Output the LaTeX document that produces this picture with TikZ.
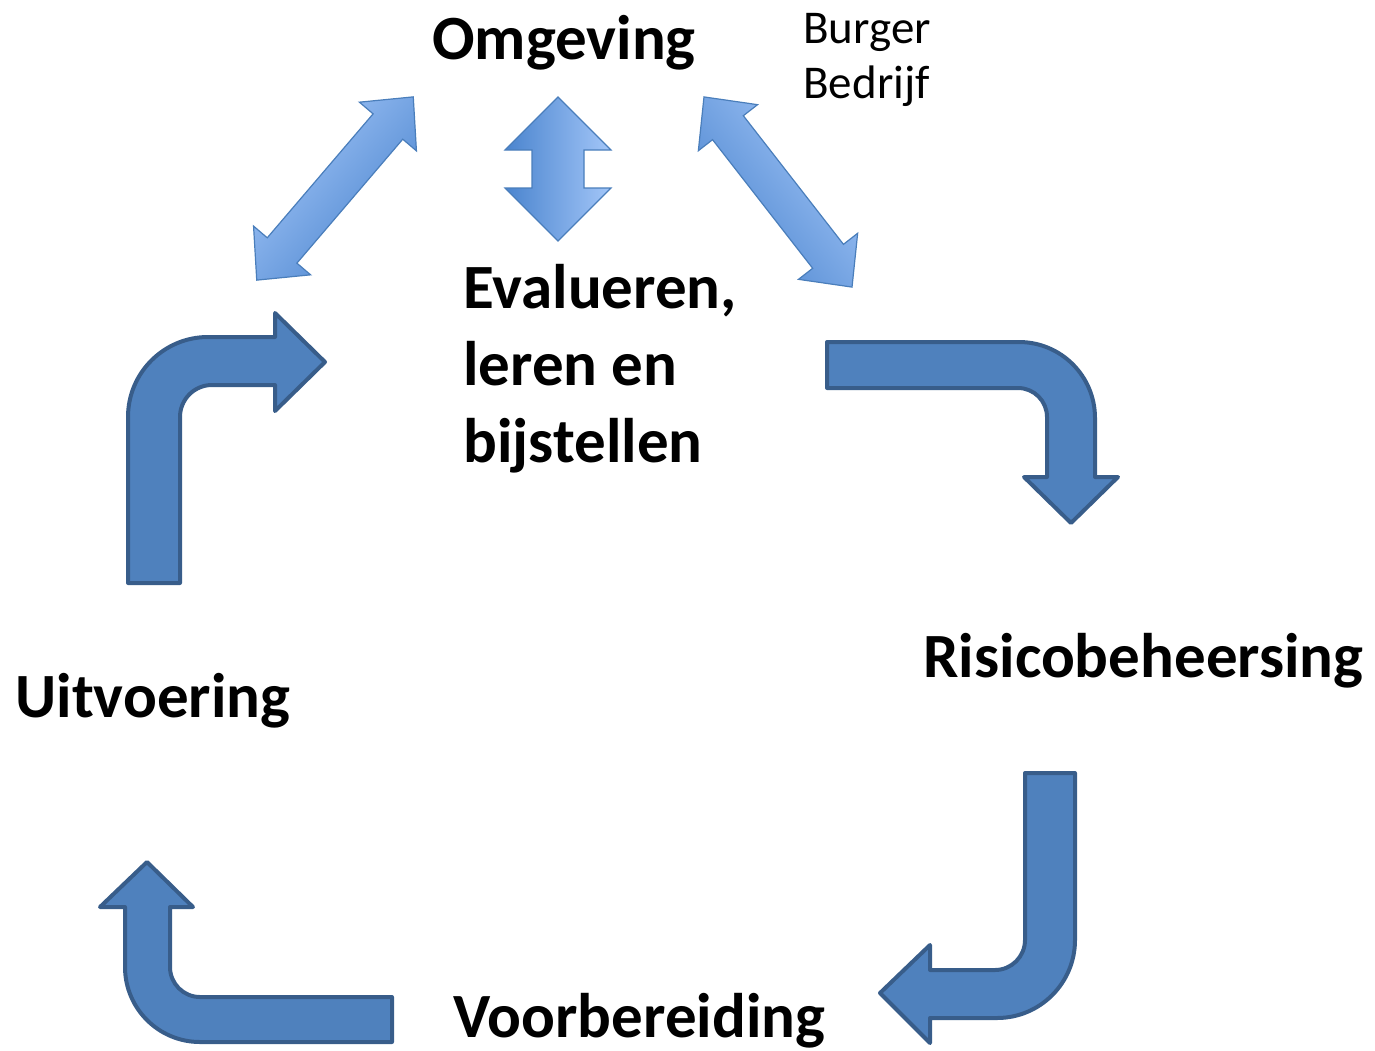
\documentclass[tikz,border=0pt]{standalone}
\usepackage{fontspec}
\setmainfont{Carlito}
\definecolor{bentfill}{HTML}{4F81BD}
\definecolor{bentline}{HTML}{385D8A}
\definecolor{dbldark}{HTML}{4A84CE}
\definecolor{dbllight}{HTML}{A3C6F8}
\definecolor{dblline}{HTML}{4A7EBB}
\tikzset{
	bent/.style={fill=bentfill, draw=bentline, line width=2pt, line join=round},
	dbl/.style={draw=dblline, line width=0.6pt, line join=miter},
	big/.style={font=\bfseries\fontsize{31.5}{38.5}\selectfont, inner sep=0pt, anchor=base west},
	small/.style={font=\fontsize{23.5}{27.5}\selectfont, inner sep=0pt, align=left}
}
\begin{document}
\begin{tikzpicture}[x=0.5pt, y=-0.5pt]
	\useasboundingbox (0,0) rectangle (1375,1050);

	% labels
	\node[big] (omg) at (432,59) {Omgeving};
	\node[small, anchor=north west] (bb) at (803,13) {Burger\\Bedrijf};
	\node[big, anchor=north west, align=left] (eval) at (463,264) {Evalueren,\\leren en\\bijstellen};
	\node[big] (uit) at (15,717) {Uitvoering};
	\node[big] (risico) at (923,677) {Risicobeheersing};
	\node[big] (voor) at (453,1037) {Voorbereiding};

	% double arrows
	\begin{scope}[shift={(335,188.5)}, rotate=49.5]
		\shade[dbl, top color=dbllight, bottom color=dbldark, shading angle=49.5] (-120.5,0) -- (-81.5,37.5) -- (-81.5,19.5) -- (81.5,19.5) -- (81.5,37.5) -- (120.5,0) -- (81.5,-37.5) -- (81.5,-19.5) -- (-81.5,-19.5) -- (-81.5,-37.5) -- cycle;
	\end{scope}
	\begin{scope}[shift={(778,192)}, rotate=-52.1]
		\shade[dbl, top color=dbllight, bottom color=dbldark, shading angle=-52.1] (-120.5,0) -- (-81.5,37.5) -- (-81.5,19.5) -- (81.5,19.5) -- (81.5,37.5) -- (120.5,0) -- (81.5,-37.5) -- (81.5,-19.5) -- (-81.5,-19.5) -- (-81.5,-37.5) -- cycle;
	\end{scope}
	\shade[dbl, left color=dbldark, right color=dbllight] (558,97) -- (611,150) -- (584,150) -- (584,188) -- (611,188) -- (558,241) -- (505,188) -- (532,188) -- (532,150) -- (505,150) -- cycle;

	% bent arrows
	\draw[bent] (128,583) -- (128,417) arc[start angle=180, end angle=270, radius=80] -- (275,337) -- (275,313) -- (325,362) -- (275,411) -- (275,385) -- (212,385) arc[start angle=270, end angle=180, radius=32] -- (180,583) -- cycle;
	\draw[bent] (827,342) -- (1019,342) arc[start angle=270, end angle=360, radius=76] -- (1095,477) -- (1118,477) -- (1071,523) -- (1024,477) -- (1047,477) -- (1047,417) arc[start angle=0, end angle=-90, radius=29] -- (827,388) -- cycle;
	\draw[bent] (1025,773) -- (1075,773) -- (1075,940) arc[start angle=0, end angle=90, radius=78] -- (930,1018) -- (930,1043) -- (880,993) -- (930,945) -- (930,970) -- (995,970) arc[start angle=90, end angle=0, radius=30] -- cycle;
	\draw[bent] (392,997) -- (200,997) arc[start angle=90, end angle=180, radius=30] -- (170,907) -- (193,907) -- (147,862) -- (100,907) -- (125,907) -- (125,967) arc[start angle=180, end angle=90, radius=75] -- (392,1042) -- cycle;
\end{tikzpicture}
\end{document}
